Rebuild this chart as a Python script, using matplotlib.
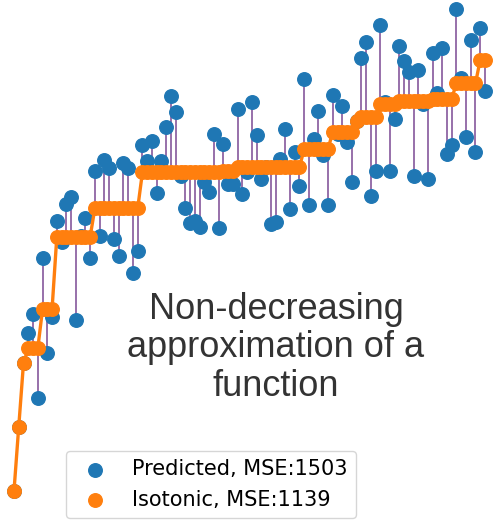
import matplotlib
matplotlib.use("Agg")
import matplotlib.pyplot as plt
import numpy as np

# sample index and the noisy values ("Predicted")
x = np.arange(100)
y = [-6.00, 31.66, 68.93, 86.31, 97.47, 48.59, 130.30, 74.97, 95.86, 152.13,
     139.89, 162.25, 166.25, 93.95, 143.40, 153.63, 130.66, 181.52, 143.22, 187.79,
     183.23, 141.55, 131.77, 185.90, 182.94, 121.90, 134.79, 196.61, 187.36, 199.06,
     168.70, 187.29, 206.83, 225.32, 215.77, 178.18, 159.55, 150.88, 152.18, 148.44,
     174.68, 168.88, 203.06, 148.21, 197.33, 173.43, 173.51, 217.56, 167.59, 180.60,
     221.59, 202.56, 176.51, 183.45, 150.37, 151.27, 188.15, 206.02, 158.88, 192.72,
     172.54, 235.36, 161.16, 199.94, 216.72, 190.48, 161.23, 225.98, 202.71, 219.42,
     198.13, 174.83, 210.52, 247.20, 256.87, 166.54, 181.19, 266.84, 221.47, 181.10,
     211.72, 254.34, 245.94, 239.54, 178.13, 240.72, 220.30, 176.87, 250.43, 226.99,
     253.54, 191.09, 196.63, 276.16, 235.69, 201.22, 257.74, 192.25, 264.76, 228.26]

# isotonic (non-decreasing) fit, one value per sample
y_iso = ([-6.00, 31.66, 68.93] + [77.46] * 3 + [100.38] * 3 + [142.77] * 8
         + [159.46] * 10 + [180.65] * 17 + [181.42] * 3 + [183.50] * 9
         + [183.66] * 5 + [194.15] * 6 + [204.21] * 5 + [210.52]
         + [212.95] * 4 + [220.28] * 4 + [222.26] * 7 + [223.74] * 5
         + [232.61] * 5 + [246.51] * 2)

labels = ["Predicted, MSE:1503", "Isotonic, MSE:1139"]
title = "Non-decreasing\napproximation of a\nfunction"

fig = plt.figure(figsize=(4.95, 5.2), dpi=100)
ax = fig.add_axes([0, 0, 1, 1])

ax.vlines(x, y, y_iso, color="#85589c", linewidth=1.2, zorder=1)
ax.scatter(x, y, s=95, color="#1f77b4", zorder=2, label=labels[0])
ax.plot(x, y_iso, color="#ff7f0e", linewidth=2.4, zorder=3)
ax.scatter(x, y_iso, s=95, color="#ff7f0e", zorder=4, label=labels[1])

ax.set_xlim(-2.94, 101.1)
ax.set_ylim(-22.97, 281.43)
ax.axis("off")

fig.text(0.5576, 0.331, title, ha="center", va="center", fontsize=26,
         family="Liberation Sans", color="#333333", linespacing=1.12)

fig.legend(loc="lower center", bbox_to_anchor=(0.426, 0.004), fontsize=15,
           scatterpoints=1, borderaxespad=0)

fig.savefig("out.png", dpi=100)
